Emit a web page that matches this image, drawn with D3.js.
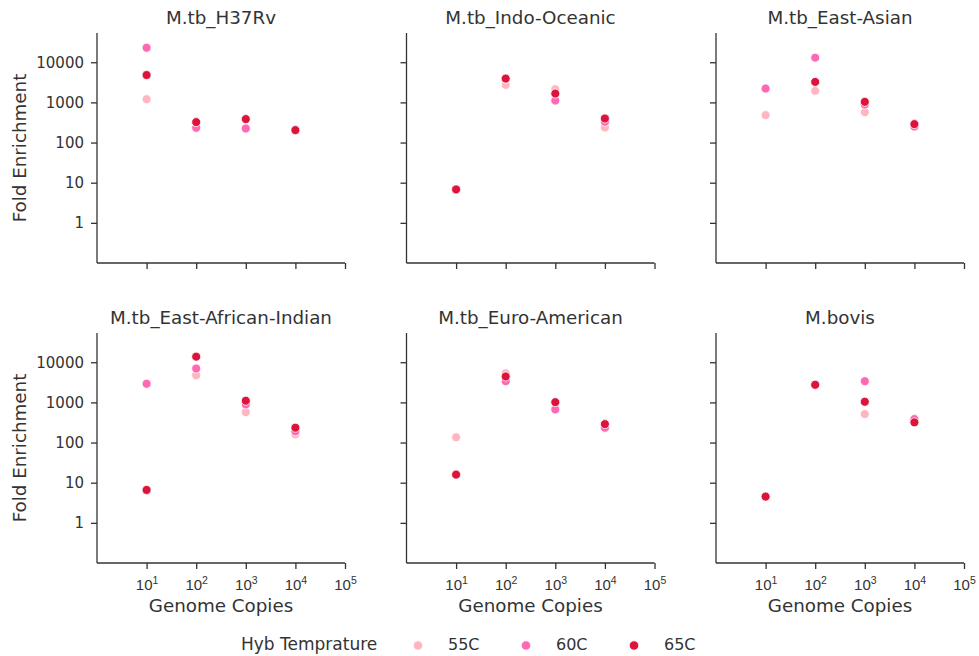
<!DOCTYPE html>
<html>
<head>
<meta charset="utf-8">
<script src="https://cdn.jsdelivr.net/npm/d3@7"></script>
<style>
  html, body { margin: 0; padding: 0; background: #fff; }
  svg { display: block; font-family: "DejaVu Sans", sans-serif; }
</style>
</head>
<body>
<svg id="chart" width="979" height="656"></svg>
<script>
// Panels (one per strain) and the genome-copy levels on the x axis
const strains = ["M.tb_H37Rv", "M.tb_Indo-Oceanic", "M.tb_East-Asian",
                 "M.tb_East-African-Indian", "M.tb_Euro-American", "M.bovis"];
const genomeCopies = [10, 100, 1000, 10000];

// Hybridisation temperatures and their colours
const temps = ["55C", "60C", "65C"];
const tempColors = ["#ffb6c1", "#ff69b4", "#dc143c"];

// Fold enrichment per strain (rows) at each genome-copy level (columns)
const fold55 = [
  [1200, 225, 220, 200],
  [6.8, 2730, 2135, 237],
  [482, 1937, 571, 245],
  [6.6, 4750, 572, 160],
  [135, 5330, 660, 234],
  [4.5, 2744, 511, 380]
];
const fold60 = [
  [23000, 233, 224, 200],
  [6.8, 3900, 1110, 329],
  [2210, 13000, 885, 251],
  [2905, 6970, 889, 190],
  [15.9, 3375, 668, 234],
  [4.5, 2744, 3375, 384]
];
const fold65 = [
  [4800, 323, 384, 204],
  [6.8, 3915, 1660, 397],
  [null, 3240, 1032, 288],
  [6.6, 13800, 1100, 234],
  [15.9, 4420, 1014, 288],
  [4.5, 2744, 1037, 318]
];
const foldByTemp = [fold55, fold60, fold65];

// Tick values
const xTicks = [1e1, 1e2, 1e3, 1e4, 1e5];
const yTicks = [1, 10, 100, 1000, 10000];
const yTickLabels = ["1", "10", "100", "1000", "10000"];

const ink = "#333333";
const svg = d3.select("#chart");

const colX = [97, 406.5, 716];
const rowY = [33, 333];
const pw = 248, ph = 230;

const x = d3.scaleLog().domain([1, 1e5]).range([0, pw]);
const y = d3.scaleLog().domain([0.1, 53500]).range([ph, 0]);

strains.forEach((name, i) => {
  const col = i % 3, row = Math.floor(i / 3);
  const g = svg.append("g").attr("transform", `translate(${colX[col]},${rowY[row]})`);

  // Panel title
  g.append("text")
    .attr("x", pw / 2).attr("y", -9)
    .attr("text-anchor", "middle")
    .attr("font-size", 18.3).attr("fill", ink)
    .text(name);

  // Y axis
  const ya = g.append("g")
    .call(d3.axisLeft(y).tickValues(yTicks).tickSize(6).tickPadding(7)
      .tickFormat((d, k) => col === 0 ? yTickLabels[k] : ""));
  ya.select(".domain").attr("stroke", ink).attr("stroke-width", 1.3).attr("d", `M0,0V${ph}`);
  ya.selectAll(".tick line").attr("stroke", ink).attr("stroke-width", 1.3);
  ya.selectAll(".tick text").attr("font-size", 15).attr("fill", ink)
    .attr("font-family", "DejaVu Sans");

  // X axis
  const xa = g.append("g").attr("transform", `translate(0,${ph})`)
    .call(d3.axisBottom(x).tickValues(xTicks).tickSize(6).tickFormat(""));
  xa.select(".domain").attr("stroke", ink).attr("stroke-width", 1.3).attr("d", `M0,0H${pw}`);
  xa.selectAll(".tick line").attr("stroke", ink).attr("stroke-width", 1.3);
  xa.selectAll(".tick text").remove();

  if (row === 1) {
    xa.selectAll(".tick").each(function(d) {
      const t = d3.select(this).append("text")
        .attr("y", 27).attr("text-anchor", "middle")
        .attr("font-size", 15).attr("fill", ink);
      t.append("tspan").text("10");
      t.append("tspan").attr("dy", -6).attr("font-size", 10.5).text(String(Math.round(Math.log10(d))));
    });
    g.append("text")
      .attr("x", pw / 2).attr("y", ph + 49)
      .attr("text-anchor", "middle")
      .attr("font-size", 18.3).attr("fill", ink)
      .text("Genome Copies");
  }

  if (col === 0) {
    g.append("text")
      .attr("transform", `translate(${20 - colX[0] + 6},${ph / 2}) rotate(-90)`)
      .attr("text-anchor", "middle")
      .attr("font-size", 18.3).attr("fill", ink)
      .text("Fold Enrichment");
  }

  // Points, drawn in temperature order so 65C sits on top
  temps.forEach((t, ti) => {
    const pts = genomeCopies.map((gc, k) => ({ gc, v: foldByTemp[ti][i][k] }))
      .filter(p => p.v != null);
    g.selectAll(null).data(pts).enter().append("circle")
      .attr("cx", p => x(p.gc))
      .attr("cy", p => y(p.v))
      .attr("r", 4.5)
      .attr("fill", tempColors[ti])
      .attr("stroke", "#fff").attr("stroke-width", 0.8);
  });
});

// Legend
const leg = svg.append("g");
leg.append("text")
  .attr("x", 241).attr("y", 650)
  .attr("font-size", 17).attr("fill", ink)
  .text("Hyb Temprature");
const legX = [418, 526, 634];
temps.forEach((t, ti) => {
  leg.append("circle")
    .attr("cx", legX[ti]).attr("cy", 645.5).attr("r", 4.7)
    .attr("fill", tempColors[ti]).attr("stroke", "#fff").attr("stroke-width", 0.8);
  leg.append("text")
    .attr("x", legX[ti] + 30).attr("y", 650)
    .attr("font-size", 16).attr("fill", ink)
    .text(t);
});
</script>
</body>
</html>
